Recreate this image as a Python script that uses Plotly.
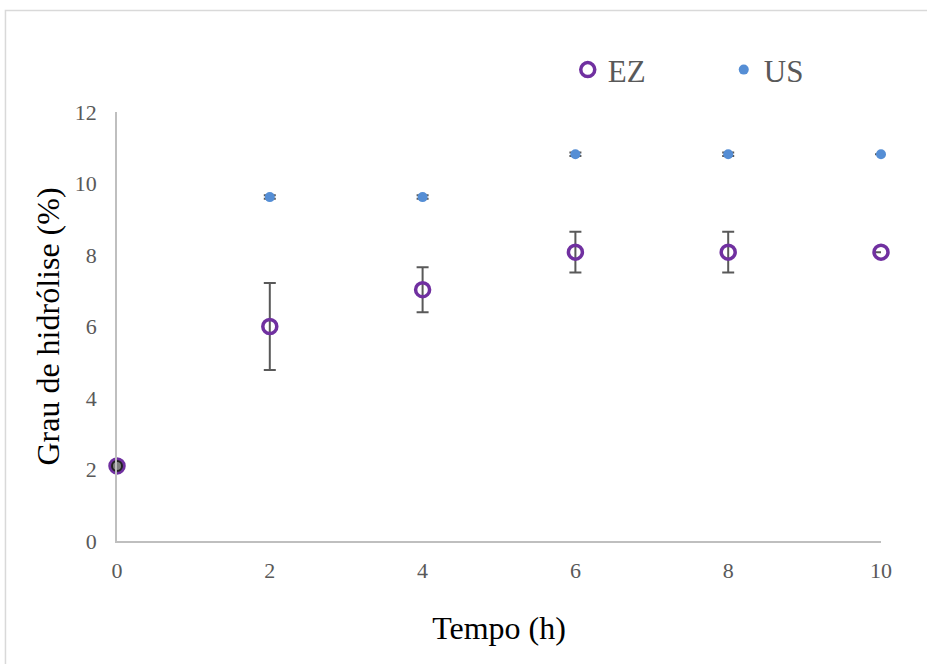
import plotly.graph_objects as go

tempo = [0, 2, 4, 6, 8, 10]
ez_values = [2.1, 6.0, 7.03, 8.08, 8.08, 8.08]
ez_errors = [0.0, 1.22, 0.63, 0.57, 0.57, 0.0]
us_values = [2.1, 9.62, 9.62, 10.82, 10.82, 10.82]
us_errors = [0.0, 0.05, 0.05, 0.05, 0.05, 0.0]
x_ticks = [0, 2, 4, 6, 8, 10]
y_ticks = [0, 2, 4, 6, 8, 10, 12]

PURPLE = "#7030A0"
BLUE = "#558ED5"
GREY = "#595959"
FONT = "Liberation Serif"

fig = go.Figure()
fig.add_trace(go.Scatter(
    x=tempo, y=ez_values, mode="markers", name="EZ",
    marker=dict(symbol="circle-open", size=14, color=PURPLE, line=dict(width=3.5, color=PURPLE)),
    error_y=dict(type="data", array=ez_errors, visible=True, color=GREY, thickness=2, width=6),
    cliponaxis=False,
))
# US series (first point at t=0 drawn in grey with dark outline, as in the original)
fig.add_trace(go.Scatter(
    x=tempo[1:], y=us_values[1:], mode="markers", name="US",
    marker=dict(symbol="circle", size=10, color=BLUE),
    error_y=dict(type="data", array=us_errors[1:], visible=True, color=GREY, thickness=2, width=6),
    cliponaxis=False,
))
fig.add_trace(go.Scatter(
    x=tempo[:1], y=us_values[:1], mode="markers", name="US", showlegend=False,
    marker=dict(symbol="circle", size=10, color="#808080", line=dict(width=2, color="#222222")),
    cliponaxis=False,
))

fig.update_layout(
    width=927, height=664,
    margin=dict(l=117, r=46, t=112, b=123),
    paper_bgcolor="white", plot_bgcolor="white",
    font=dict(family=FONT, color=GREY),
    showlegend=True,
    legend=dict(orientation="h", x=0.590, y=1.098, xanchor="left", yanchor="middle",
                font=dict(family=FONT, size=31, color=GREY),
                entrywidth=111, entrywidthmode="pixels", itemwidth=30,
                bgcolor="rgba(0,0,0,0)"),
    xaxis=dict(range=[0, 10], tickvals=x_ticks, ticktext=[str(v) for v in x_ticks],
               showgrid=False, zeroline=False, showline=True, linecolor="#bfbfbf", linewidth=1.5,
               ticks="", tickfont=dict(size=22, color=GREY), ticklabelstandoff=9,
               title=dict(text="Tempo (h)", font=dict(size=32, color="black"), standoff=34)),
    yaxis=dict(range=[0, 12], tickvals=y_ticks, ticktext=[str(v) for v in y_ticks],
               showgrid=False, zeroline=False, showline=True, linecolor="#bfbfbf", linewidth=1.5,
               ticks="", tickfont=dict(size=22, color=GREY), ticklabelstandoff=14,
               title=dict(text="Grau de hidrólise (%)", font=dict(size=32, color="black"), standoff=6)),
    shapes=[dict(type="rect", xref="paper", yref="paper",
                 x0=-0.146, x1=1.07, y0=-0.31, y1=1.2366,
                 line=dict(color="#d9d9d9", width=1.5), fillcolor="rgba(0,0,0,0)", layer="below")],
)

fig.write_html("out.html", config={"displayModeBar": False},
               post_script="document.body.style.margin='0';document.body.style.padding='0';")
